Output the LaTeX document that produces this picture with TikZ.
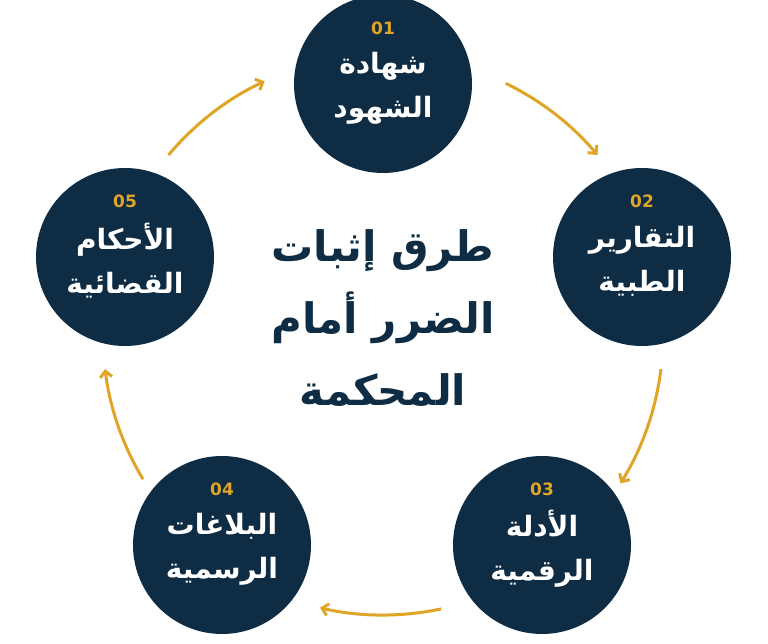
\documentclass[tikz,border=0pt]{standalone}
\usepackage{fontspec}
\TeXXeTstate=1
\newfontfamily\arabicfont[Script=Arabic]{DejaVu Sans}
\definecolor{navy}{HTML}{0E2D45}
\definecolor{gold}{HTML}{E0A526}
\usetikzlibrary{arrows.meta}
\begin{document}
\begin{tikzpicture}[x=1pt,y=1pt,
  stepc/.style={circle,fill=navy,minimum size=178pt,inner sep=0pt},
  num/.style={text=gold,font=\arabicfont\bfseries\fontsize{17}{17}\selectfont},
  lbl/.style={text=white,align=center,font=\arabicfont\bfseries\fontsize{28}{44}\selectfont},
  arr/.style={draw=gold,line width=3pt,-{Straight Barb[length=6pt,width=12pt]}}]
\useasboundingbox (0,0) rectangle (768,644);
\node[stepc] (c1) at (383,560) {};
\node[stepc] (c2) at (642,387) {};
\node[stepc] (c3) at (542,99) {};
\node[stepc] (c4) at (222,99) {};
\node[stepc] (c5) at (125,387) {};
\foreach \c/\n/\a/\b in {c1/01/شهادة/الشهود, c2/02/التقارير/الطبية, c3/03/الأدلة/الرقمية, c4/04/البلاغات/الرسمية, c5/05/الأحكام/القضائية}{
  \node[num] at ([yshift=56pt]\c.center) {\n};
  \node[lbl] at ([yshift=-4pt]\c.center) {\beginR\a\endR\\\beginR\b\endR};
}
\node[text=navy,align=center,font=\arabicfont\bfseries\fontsize{42}{72}\selectfont] (t) at (383,326)
 {\beginR طرق إثبات\endR\\\beginR الضرر أمام\endR\\\beginR المحكمة\endR};
\coordinate (o) at (383,309);
\foreach \s/\e in {140/115, 64/40, -7/-32, -78/-103, -149/-173}{
  \draw[arr] ([shift={(\s:280)}]o) arc[start angle=\s,end angle=\e,radius=280];
}
\end{tikzpicture}
\end{document}
